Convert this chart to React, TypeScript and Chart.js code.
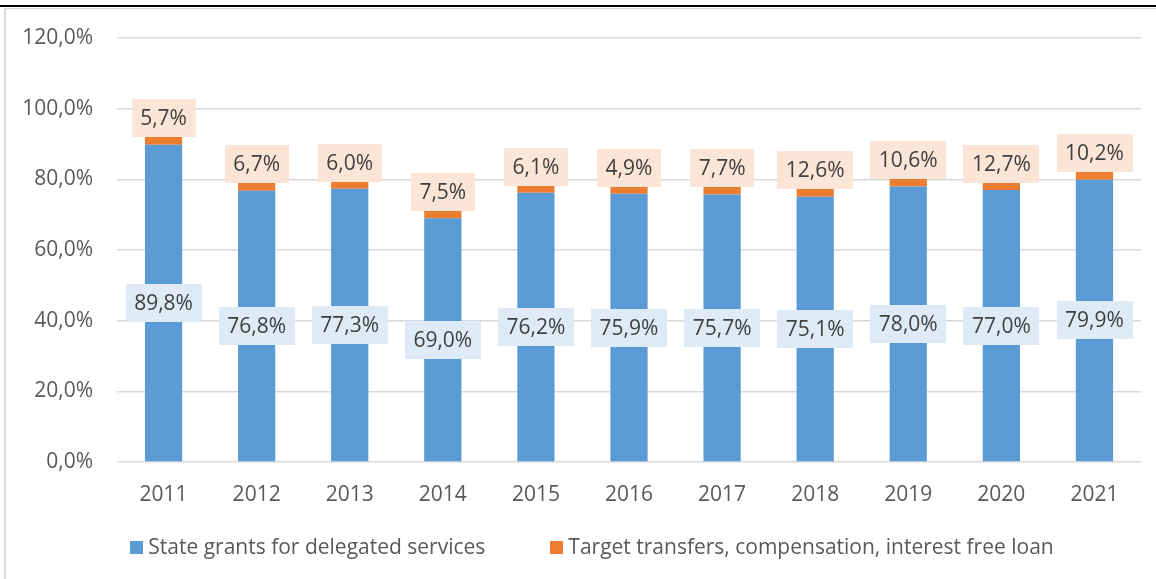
import React, { useEffect, useRef } from "react";
import { Chart, registerables } from "chart.js";

Chart.register(...registerables);

const years = ["2011", "2012", "2013", "2014", "2015", "2016", "2017", "2018", "2019", "2020", "2021"];
const stateGrants = [89.8, 76.8, 77.3, 69.0, 76.2, 75.9, 75.7, 75.1, 78.0, 77.0, 79.9];
const targetTransfers = [2.3, 2.2, 2.0, 2.1, 1.9, 1.9, 2.1, 2.2, 2.1, 2.0, 2.2];
const targetLabels = [5.7, 6.7, 6.0, 7.5, 6.1, 4.9, 7.7, 12.6, 10.6, 12.7, 10.2];
const seriesNames = ["State grants for delegated services", "Target transfers, compensation, interest free loan"];
const yMin = 0;
const yMax = 120;
const yStep = 20;

const BLUE = "#5B9BD5";
const ORANGE = "#ED7D31";
const FONT = '"Open Sans", "Liberation Sans", sans-serif';
const FONT_SIZE = 21;

const fmt = (v: number) => v.toFixed(1).replace(".", ",") + "%";

function drawBox(ctx: CanvasRenderingContext2D, text: string, cx: number, cy: number, fill: string) {
  const w = ctx.measureText(text).width + 17;
  const h = 38;
  ctx.fillStyle = fill;
  ctx.fillRect(Math.round(cx - w / 2), Math.round(cy - h / 2), Math.round(w), h);
  ctx.fillStyle = "#404040";
  ctx.fillText(text, cx, cy + 1);
}

const labelPlugin = {
  id: "boxLabels",
  afterDatasetsDraw(chart: any) {
    const ctx = chart.ctx as CanvasRenderingContext2D;
    ctx.save();
    ctx.font = `${FONT_SIZE}px ${FONT}`;
    ctx.textAlign = "center";
    ctx.textBaseline = "middle";
    const m0 = chart.getDatasetMeta(0);
    const m1 = chart.getDatasetMeta(1);
    m0.data.forEach((bar: any, i: number) => {
      drawBox(ctx, fmt(stateGrants[i]), bar.x, (bar.y + bar.base) / 2, "#DEEBF7");
    });
    m1.data.forEach((bar: any, i: number) => {
      drawBox(ctx, fmt(targetLabels[i]), bar.x, bar.y - 19, "#FBE5D6");
    });
    ctx.restore();
  },
};

const legendPlugin = {
  id: "customLegend",
  afterDraw(chart: any) {
    const ctx = chart.ctx as CanvasRenderingContext2D;
    ctx.save();
    ctx.font = `${FONT_SIZE}px ${FONT}`;
    ctx.textBaseline = "middle";
    ctx.textAlign = "left";
    const box = 13;
    const gap = 5;
    const spacing = 65;
    const items = chart.data.datasets.map((d: any) => ({
      label: d.label as string,
      color: d.backgroundColor as string,
      w: ctx.measureText(d.label).width,
    }));
    const total = items.reduce((s: number, it: any) => s + box + gap + it.w, 0) + spacing * (items.length - 1);
    const center = (chart.chartArea.left + chart.chartArea.right) / 2 - 37;
    let x = center - total / 2;
    const y = chart.chartArea.bottom + 85;
    items.forEach((it: any) => {
      ctx.fillStyle = it.color;
      ctx.fillRect(Math.round(x), Math.round(y - box / 2), box, box);
      ctx.fillStyle = "#595959";
      ctx.fillText(it.label, x + box + gap, y + 1);
      x += box + gap + it.w + spacing;
    });
    ctx.restore();
  },
};

export default function App() {
  const ref = useRef<HTMLCanvasElement | null>(null);

  useEffect(() => {
    if (!ref.current) return;
    const chart = new Chart(ref.current, {
      type: "bar",
      data: {
        labels: years,
        datasets: [
          {
            label: seriesNames[0],
            data: stateGrants,
            backgroundColor: BLUE,
            borderWidth: 0,
            barPercentage: 0.4,
            categoryPercentage: 1,
          },
          {
            label: seriesNames[1],
            data: targetTransfers,
            backgroundColor: ORANGE,
            borderWidth: 0,
            barPercentage: 0.4,
            categoryPercentage: 1,
          },
        ],
      },
      options: {
        animation: false,
        responsive: false,
        maintainAspectRatio: false,
        layout: { padding: { left: 23, right: 15, top: 38, bottom: 61 } },
        plugins: {
          legend: { display: false },
          tooltip: { enabled: false },
        },
        scales: {
          x: {
            stacked: true,
            grid: { display: false },
            border: { display: false },
            ticks: {
              color: "#595959",
              font: { family: FONT, size: FONT_SIZE },
              padding: 12,
              maxRotation: 0,
            },
            afterFit: (scale: any) => {
              scale.height = 56;
            },
          },
          y: {
            stacked: true,
            min: yMin,
            max: yMax,
            grid: { color: "#D9D9D9", lineWidth: 1.5, drawTicks: false },
            border: { display: false },
            ticks: {
              stepSize: yStep,
              color: "#595959",
              font: { family: FONT, size: FONT_SIZE },
              padding: 24,
              callback: (v: any) => fmt(Number(v)),
            },
            afterFit: (scale: any) => {
              scale.width = 94;
            },
          },
        },
      },
      plugins: [labelPlugin, legendPlugin],
    });
    return () => chart.destroy();
  }, []);

  return (
    <div style={{ position: "absolute", left: 0, top: 0, width: 1156, height: 579, background: "#fff", overflow: "hidden" }}>
      <canvas ref={ref} width={1156} height={579} style={{ position: "absolute", left: 0, top: 0, width: 1156, height: 579, display: "block" }} />
      <div style={{ position: "absolute", left: 0, top: 5, width: 1156, height: 2, background: "#000" }} />
      <div style={{ position: "absolute", left: 4, top: 8, width: 1152, height: 1, background: "#D9D9D9" }} />
      <div style={{ position: "absolute", left: 4, top: 8, width: 2, height: 571, background: "#D9D9D9" }} />
    </div>
  );
}
